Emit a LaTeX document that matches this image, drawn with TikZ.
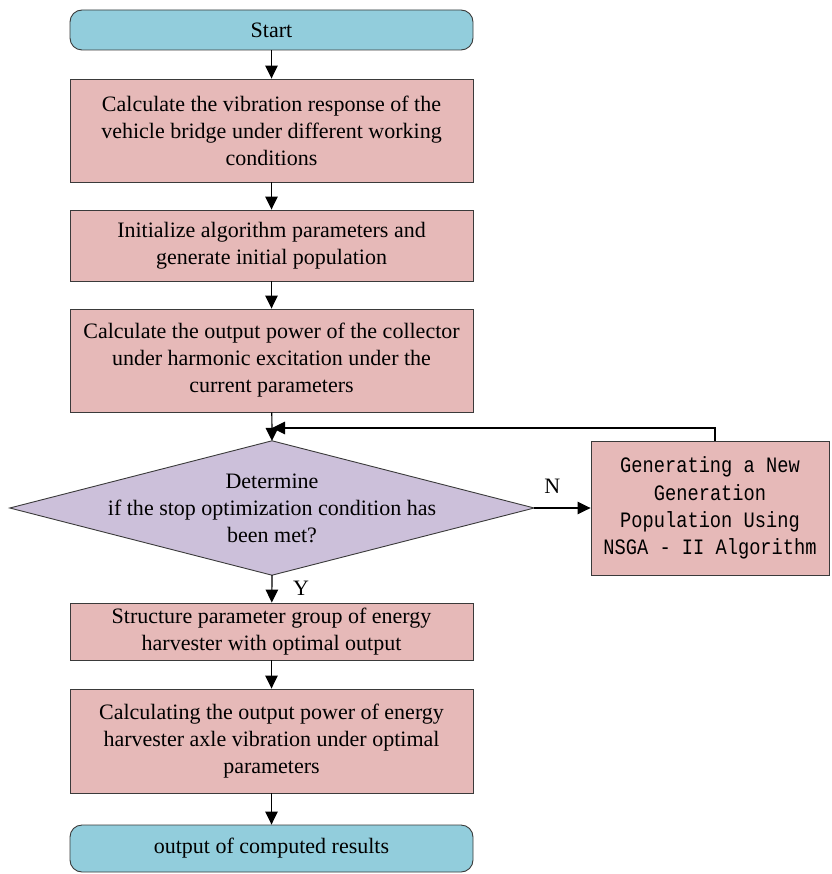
\documentclass[tikz,border=0pt]{standalone}
\usepackage{fontspec}
\setmainfont{Liberation Serif}
\newfontfamily\monof[FakeStretch=0.85]{Liberation Mono}
\usetikzlibrary{shapes.geometric,arrows.meta}
\definecolor{cblue}{HTML}{92CDDC}
\definecolor{cpink}{HTML}{E6B9B8}
\definecolor{clav}{HTML}{CCC0DA}
\definecolor{cedge}{HTML}{3A3A3A}
\begin{document}
\begin{tikzpicture}[x=1pt,y=-1pt,
  base/.style={draw=cedge,line width=0.9pt,inner sep=0pt,align=center,font=\fontsize{22}{27}\selectfont},
  term/.style={base,fill=cblue,rounded corners=12pt,minimum width=403pt},
  proc/.style={base,fill=cpink,minimum width=403pt},
  dec/.style={inner sep=0pt,align=center,font=\fontsize{22}{27}\selectfont,minimum width=524pt,minimum height=134pt},
  decshape/.style={draw=cedge,line width=0.9pt,fill=clav},
  arr/.style={line width=1.2pt,-{Triangle[length=13pt,width=12.5pt]}},
  lbl/.style={font=\fontsize{22}{23}\selectfont,inner sep=0pt}]
\useasboundingbox (0,0) rectangle (831,874);
\node[term,minimum height=40pt] (start) at (271.5,30) {Start};
\node[proc,minimum height=103pt] (b1) at (271.5,130.5) {Calculate the vibration response of the\\vehicle bridge under different working\\conditions};
\node[proc,minimum height=71pt] (b2) at (271.5,245.5) {Initialize algorithm parameters and\\generate initial population};
\node[proc,minimum height=103pt] (b3) at (271.5,360.5) {Calculate the output power of the collector\\under harmonic excitation under the\\current parameters};
\node[dec] (d) at (272,508) {};
\draw[decshape] (d.west) -- (d.north) -- (d.east) -- (d.south) -- cycle;
\node[dec] (dt) at (d.center) {Determine\\if the stop optimization condition has\\been met?};
\node[base,fill=cpink,minimum width=238pt,minimum height=134pt,font=\monof\fontsize{22}{27.3}\selectfont] (r) at (710,508) {Generating a New\\Generation\\Population Using\\NSGA - II Algorithm};
\node[proc,minimum height=57pt] (b4) at (271.5,631.5) {Structure parameter group of energy\\harvester with optimal output};
\node[proc,minimum height=104pt] (b5) at (271.5,741) {Calculating the output power of energy\\harvester axle vibration under optimal\\parameters};
\node[term,minimum height=47pt] (end) at (271.5,848.5) {output of computed results};
\coordinate (join) at (272,428);
\node[lbl] (nl) at ([xshift=18pt,yshift=22pt]d.east) {N};
\node[lbl,anchor=west] (yl) at ([xshift=21pt,yshift=-13pt]d.south) {Y};
\draw[arr] (start) -- (b1);
\draw[arr] (b1) -- (b2);
\draw[arr] (b2) -- (b3);
\draw[arr] (b3) -- (d.north);
\draw[arr] (d.east) -- (r);
\draw[arr] ([xshift=5pt]r.north) |- (join);
\draw[arr] (d.south) -- (b4);
\draw[arr] (b4) -- (b5);
\draw[arr] (b5) -- (end);
\end{tikzpicture}
\end{document}
